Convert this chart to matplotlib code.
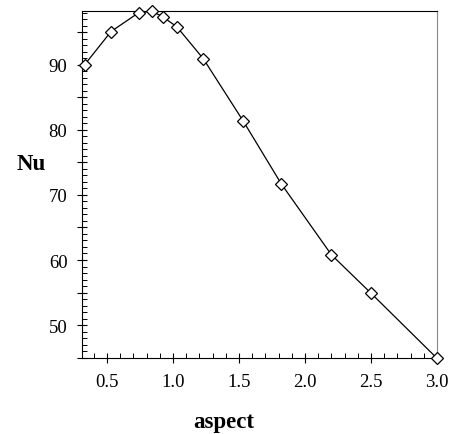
import matplotlib
matplotlib.use("Agg")
import matplotlib.pyplot as plt
from matplotlib.ticker import MultipleLocator, FuncFormatter

aspect = [0.33, 0.53, 0.74, 0.84, 0.92, 1.03, 1.23, 1.53, 1.82, 2.2, 2.5, 3.0]
nu = [90.0, 95.1, 98.0, 98.2, 97.4, 95.8, 90.9, 81.4, 71.7, 60.8, 54.9, 44.9]

plt.rcParams['font.family'] = ['Liberation Serif', 'DejaVu Serif']

fig = plt.figure(figsize=(4.5, 4.35), dpi=100)
ax = fig.add_axes([82/450, 1-359.3/435, (437-82)/450, (359.3-11.7)/435])

ax.plot(aspect, nu, color='black', lw=0.9, marker='D', ms=6,
        mfc='white', mec='black', mew=0.9, clip_on=False, zorder=3)

ax.set_xlim(0.31, 3.0)
ax.set_ylim(44.9, 98.3)

ax.xaxis.set_major_locator(MultipleLocator(0.5))
ax.xaxis.set_minor_locator(MultipleLocator(0.1))
ax.yaxis.set_major_locator(MultipleLocator(5))
ax.yaxis.set_minor_locator(MultipleLocator(1))
ax.yaxis.set_major_formatter(FuncFormatter(lambda v, p: f"{int(round(v))}" if round(v) % 10 == 0 else ""))
ax.xaxis.set_major_formatter(FuncFormatter(lambda v, p: f"{v:.1f}"))

ax.tick_params(which='major', direction='inout', length=7, width=0.8, labelsize=13.5, pad=7)
ax.tick_params(which='minor', direction='in', length=3.5, width=0.7)
ax.tick_params(top=False, right=False, which='both')

for s in ax.spines.values():
    s.set_linewidth(0.8)
ax.spines['right'].set_color('#888888')

fig.text(31/450, 1-165/435, 'Nu', fontsize=16.5, fontweight='bold', ha='center', va='center')
fig.text(224/450, 1-423/435, 'aspect', fontsize=16.5, fontweight='bold', ha='center', va='center')

fig.savefig('out.png', dpi=100)
